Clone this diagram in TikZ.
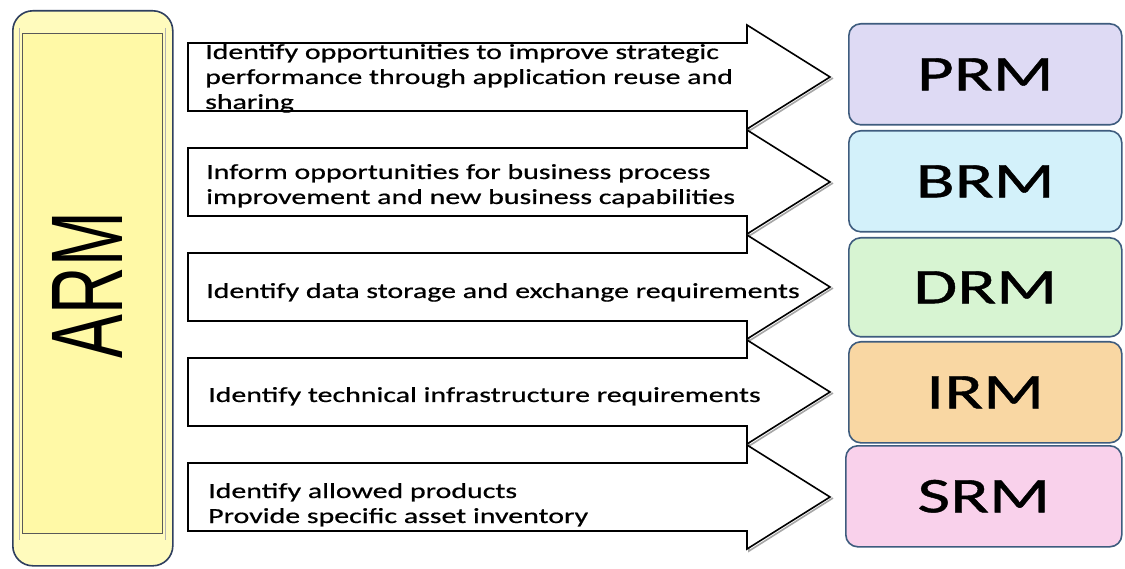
\documentclass[tikz,border=0pt]{standalone}
\usepackage{fontspec}
\setmainfont{Carlito}
\newfontfamily\armfont{Liberation Sans}
\newfontfamily\arrowfont[FakeStretch=1.39,FakeBold=0.6]{Carlito}
\newfontfamily\boxfont[FakeStretch=1.43,FakeBold=0.8]{Carlito}
\definecolor{armyellow}{HTML}{FFF9A0}
\definecolor{arminner}{HTML}{FFF9A6}
\definecolor{armborder}{HTML}{2F3F5F}
\definecolor{boxborder}{HTML}{3E5C7E}
\definecolor{prmfill}{HTML}{DEDAF4}
\definecolor{brmfill}{HTML}{D3F1FA}
\definecolor{drmfill}{HTML}{D7F4D2}
\definecolor{irmfill}{HTML}{F9D7A3}
\definecolor{srmfill}{HTML}{F9D1EB}
\tikzset{
  refbox/.style={draw=boxborder, line width=1.6pt, rounded corners=12pt,
    minimum width=273pt, minimum height=101pt, inner sep=0pt, anchor=north west,
    font=\boxfont\fontsize{50}{50}\selectfont},
  arrowshape/.style={draw=black, line width=1.6pt, fill=white, line join=miter},
  arrowshadow/.style={draw=gray!70, line width=1.6pt},
  arrowtext/.style={anchor=base west, inner sep=0pt, align=left,
    font=\arrowfont\fontsize{21.5}{25}\selectfont}
}
\begin{document}
\begin{tikzpicture}[x=1pt,y=-1pt]
\useasboundingbox[fill=white] (0,0) rectangle (1125,569);
% ARM column
\node[draw=armborder, line width=1.6pt, fill=armyellow!70!white, rounded corners=20pt,
  minimum width=160pt, minimum height=555pt, inner sep=0pt, anchor=north west] (arm) at (12,10) {};
\draw[gray!70!black, line width=0.8pt, fill=arminner] (22,33) rectangle (162,533);
\draw[gray!60, line width=0.6pt] (19,28) -- (19,540) (165,28) -- (165,540);
\node[rotate=90, inner sep=0pt] (armtext) at (87,285) {\resizebox{146pt}{70pt}{\armfont ARM}};
% arrows
\foreach \c in {77,182,287,392,497}{
  \draw[arrowshadow] (749,{\c+36}) -- (749,{\c+54}) -- (833,{\c+1});
  \draw[arrowshape] (188,{\c-34}) -- (747,{\c-34}) -- (747,{\c-52}) -- (830,\c)
    -- (747,{\c+52}) -- (747,{\c+34}) -- (188,{\c+34}) -- cycle;
}
\node[arrowtext] (t1) at (205,109) {Identify opportunities to improve strategic\\performance through application reuse and\\sharing};
\node[arrowtext] (t2) at (206,204) {Inform opportunities for business process\\improvement and new business capabilities};
\node[arrowtext] (t3) at (206,298) {Identify data storage and exchange requirements};
\node[arrowtext] (t4) at (208,402) {Identify technical infrastructure requirements};
\node[arrowtext] (t5) at (208,523) {Identify allowed products\\Provide specific asset inventory};
% reference model boxes
\node[refbox, fill=prmfill] (prm) at (848,23) {PRM};
\node[refbox, fill=brmfill] (brm) at (848,130) {BRM};
\node[refbox, fill=drmfill, minimum height=99pt] (drm) at (848,237) {DRM};
\node[refbox, fill=irmfill] (irm) at (848,341) {IRM};
\node[refbox, fill=srmfill, minimum width=276pt] (srm) at (845,445) {SRM};
\end{tikzpicture}
\end{document}
